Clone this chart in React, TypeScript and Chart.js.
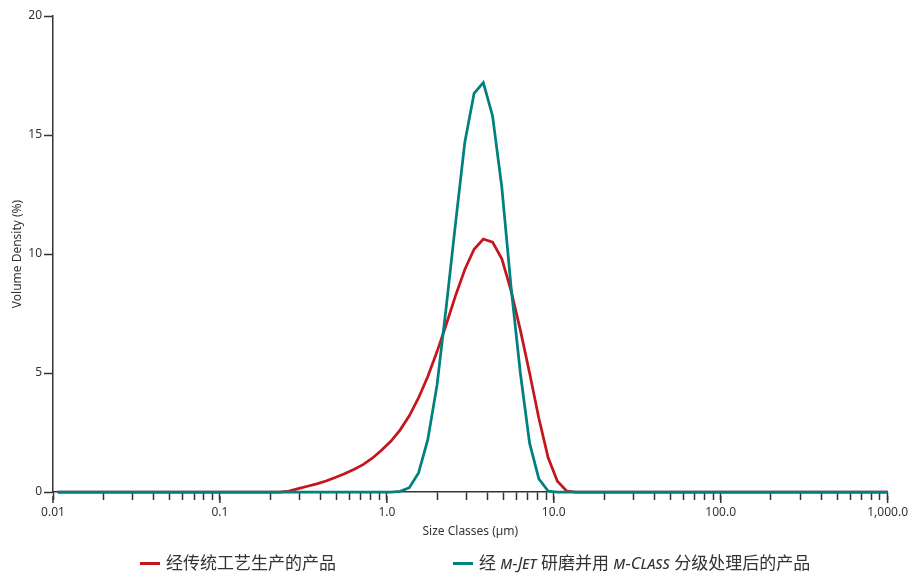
import React, { useEffect, useRef } from 'react';
import { Chart, registerables } from 'chart.js';

Chart.register(...registerables);

// Size classes (µm), geometric bin mid-points of the laser-diffraction instrument
const sizeClasses = [
  0.01066,
  0.2009, 0.2282, 0.2593, 0.2945, 0.3346, 0.3802, 0.4319, 0.4907, 0.5576, 0.6334,
  0.7199, 0.8178, 0.9292, 1.056, 1.199, 1.363, 1.548, 1.759, 1.999, 2.271,
  2.580, 2.932, 3.331, 3.784, 4.299, 4.885, 5.550, 6.306, 7.164, 8.140,
  9.248, 10.51, 11.94, 13.56, 15.41,
  916.2, 1035,
];

// Volume density (%) — conventional process
const conventionalValues = [
  0,
  0, 0, 0.04, 0.14, 0.24, 0.34, 0.46, 0.61, 0.77, 0.95,
  1.15, 1.42, 1.75, 2.13, 2.6, 3.2, 3.95, 4.85, 5.9, 7.05,
  8.25, 9.35, 10.2, 10.63, 10.5, 9.8, 8.45, 6.8, 5.0, 3.1,
  1.45, 0.45, 0.04, 0, 0,
  0, 0,
];

// Volume density (%) — m-Jet milling + m-Class classification
const mJetClassValues = [
  0,
  0, 0, 0, 0, 0, 0, 0, 0, 0, 0,
  0, 0, 0, 0, 0.03, 0.18, 0.8, 2.2, 4.5, 7.8,
  11.3, 14.7, 16.75, 17.2, 15.8, 12.8, 8.6, 5.0, 2.05, 0.55,
  0.04, 0, 0, 0, 0,
  0, 0,
];

const xTickValues = [0.01, 0.1, 1, 10, 100, 1000];
const xTickLabels = ['0.01', '0.1', '1.0', '10.0', '100.0', '1,000.0'];
const yTickValues = [0, 5, 10, 15, 20];
const yTickLabels = ['0', '5', '10', '15', '20'];

const seriesNames = ['经传统工艺生产的产品', '经 m-Jet 研磨并用 m-Class 分级处理后的产品'];
const seriesColors = ['#C4161C', '#00807E'];

const xTitle = 'Size Classes (µm)';
const yTitle = 'Volume Density (%)';

const AXIS_COLOR = '#333333';
const TEXT_COLOR = '#333333';
const FONT = "'Noto Sans', 'Open Sans', sans-serif";

const majorTickPlugin = {
  id: 'majorTicks',
  beforeDatasetsDraw(chart: any) {
    const xs = chart.scales.x;
    const ctx = chart.ctx;
    const y0 = chart.chartArea.bottom;
    ctx.save();
    ctx.strokeStyle = AXIS_COLOR;
    ctx.lineWidth = 1.5;
    xTickValues.forEach((v) => {
      const px = xs.getPixelForValue(v);
      ctx.beginPath();
      ctx.moveTo(px, y0 + 4);
      ctx.lineTo(px, y0 + 11);
      ctx.stroke();
    });
    ctx.restore();
  },
};

function labelForX(value: number): string {
  for (let i = 0; i < xTickValues.length; i++) {
    if (Math.abs(Math.log10(value) - Math.log10(xTickValues[i])) < 1e-6) return xTickLabels[i];
  }
  return '';
}

function labelForY(value: number): string {
  const i = yTickValues.indexOf(value);
  return i >= 0 ? yTickLabels[i] : '';
}

export default function App() {
  const canvasRef = useRef<HTMLCanvasElement | null>(null);

  useEffect(() => {
    if (!canvasRef.current) return;
    const makeData = (vals: number[]) => sizeClasses.map((x, i) => ({ x, y: vals[i] }));
    const chart = new Chart(canvasRef.current, {
      type: 'line',
      data: {
        datasets: [
          {
            label: seriesNames[0],
            data: makeData(conventionalValues),
            borderColor: seriesColors[0],
            backgroundColor: seriesColors[0],
            borderWidth: 2.75,
            pointRadius: 0,
            tension: 0,
            order: 1,
            clip: { left: 6, top: 6, right: 0, bottom: 6 } as any,
          },
          {
            label: seriesNames[1],
            data: makeData(mJetClassValues),
            borderColor: seriesColors[1],
            backgroundColor: seriesColors[1],
            borderWidth: 2.75,
            pointRadius: 0,
            tension: 0,
            order: 0,
            clip: { left: 6, top: 6, right: 0, bottom: 6 } as any,
          },
        ],
      },
      options: {
        animation: false,
        responsive: false,
        maintainAspectRatio: false,
        layout: { padding: { left: 0, right: 23, top: 16, bottom: 34 } },
        plugins: {
          legend: { display: false },
          tooltip: { enabled: false },
        },
        scales: {
          x: {
            type: 'logarithmic',
            min: 0.01,
            max: 1000,
            afterBuildTicks: (scale: any) => {
              const t: any[] = [];
              for (let e = -2; e < 3; e++) {
                for (let m = 1; m < 10; m++) {
                  t.push({ value: m * Math.pow(10, e), major: m === 1 });
                }
              }
              t.push({ value: 1000, major: true });
              scale.ticks = t;
            },
            afterFit: (scale: any) => {
              scale.height = 47;
            },
            ticks: {
              autoSkip: false,
              maxRotation: 0,
              minRotation: 0,
              padding: 5,
              color: TEXT_COLOR,
              font: { family: FONT, size: 12 },
              callback: (value: any) => labelForX(Number(value)),
            },
            grid: {
              display: true,
              drawOnChartArea: false,
              drawTicks: true,
              tickLength: 8,
              tickColor: AXIS_COLOR,
              tickWidth: 1.5,
            },
            border: { display: true, color: AXIS_COLOR, width: 1.5 },
            title: {
              display: true,
              text: xTitle,
              color: TEXT_COLOR,
              font: { family: FONT, size: 12 },
              padding: { top: 0, bottom: 0 },
            },
          },
          y: {
            type: 'linear',
            min: 0,
            max: 20,
            afterFit: (scale: any) => {
              scale.width = 53;
            },
            ticks: {
              stepSize: 5,
              padding: 2,
              color: TEXT_COLOR,
              font: { family: FONT, size: 12 },
              callback: (value: any) => labelForY(Number(value)),
            },
            grid: {
              display: true,
              drawOnChartArea: false,
              drawTicks: true,
              tickLength: 9,
              tickColor: AXIS_COLOR,
              tickWidth: 1.5,
            },
            border: { display: true, color: AXIS_COLOR, width: 1.5 },
            title: {
              display: true,
              text: yTitle,
              color: TEXT_COLOR,
              font: { family: FONT, size: 12 },
              padding: { top: 10, bottom: 0 },
            },
          },
        },
      },
      plugins: [majorTickPlugin],
    } as any);
    return () => chart.destroy();
  }, []);

  const legendText: React.CSSProperties = {
    position: 'absolute',
    top: 552,
    height: 22,
    lineHeight: '22px',
    fontSize: 17,
    color: TEXT_COLOR,
    fontFamily: "'Noto Sans', 'Noto Sans CJK SC', sans-serif",
    whiteSpace: 'nowrap',
  };
  const swatch = (left: number, color: string): React.CSSProperties => ({
    position: 'absolute',
    left,
    top: 561.5,
    width: 20,
    height: 3,
    background: color,
  });
  const sc: React.CSSProperties = { fontStyle: 'italic', fontVariant: 'small-caps' };

  return (
    <div style={{ position: 'absolute', left: 0, top: 0, width: 913, height: 573, background: '#fff' }}>
      <canvas ref={canvasRef} width={913} height={573} style={{ display: 'block' }} />
      <div style={swatch(140, seriesColors[0])} />
      <div style={{ ...legendText, left: 166 }}>{seriesNames[0]}</div>
      <div style={swatch(453, seriesColors[1])} />
      <div style={{ ...legendText, left: 479 }}>
        经 <span style={sc}>m-Jet</span> 研磨并用 <span style={sc}>m-Class</span> 分级处理后的产品
      </div>
    </div>
  );
}
